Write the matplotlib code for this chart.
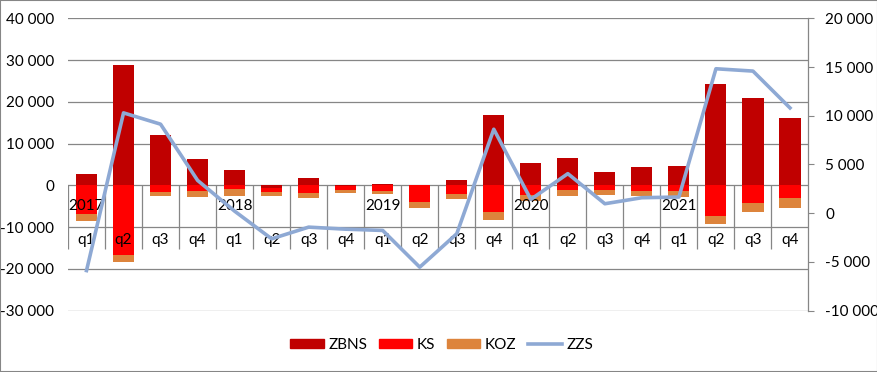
import numpy as np
import matplotlib.pyplot as plt
from matplotlib.ticker import FuncFormatter, MultipleLocator
from matplotlib.patches import Patch, Rectangle
from matplotlib.lines import Line2D

plt.rcParams['font.family'] = ['Lato', 'DejaVu Sans']

years = ["2017", "", "", "", "2018", "", "", "", "2019", "", "", "",
         "2020", "", "", "", "2021", "", "", ""]
quarters = ["q1", "q2", "q3", "q4"] * 5

zbns = [2800, 28850, 12100, 6400, 3750, -700, 1840, -150,
        400, 0, 1360, 16900, 5420, 6620, 3270, 4470,
        4710, 24300, 20960, 16180]
ks = [-7000, -16800, -1500, -1300, -800, -1000, -1750, -1000,
      -1400, -3900, -2000, -6450, -2230, -1030, -1030, -1270,
      -1270, -7480, -4140, -2940]
koz = [-1600, -1600, -1100, -1600, -1800, -950, -1350, -650,
       -800, -1650, -1180, -1750, -1430, -1430, -1200, -1360,
       -1600, -1840, -2150, -2390]
zzs = [-5900, 10290, 9130, 3360, 200, -2640, -1440, -1650,
       -1780, -5550, -2120, 8610, 1410, 4050, 960, 1580,
       1650, 14820, 14580, 10800]

colors = {"ZBNS": "#C00000", "KS": "#FF0000", "KOZ": "#DD843C"}
line_color = "#8EA9D4"
grid_color = "#868686"

fig = plt.figure(figsize=(8.78, 3.72), dpi=100)
ax = fig.add_axes([68 / 878, 1 - 310.5 / 372, 740.5 / 878, 292.2 / 372])

x = np.arange(len(quarters))
pos_base = np.zeros(len(x))
neg_base = np.zeros(len(x))
for name, vals in [("ZBNS", zbns), ("KS", ks), ("KOZ", koz)]:
    vals = np.array(vals, dtype=float)
    bottoms = np.where(vals >= 0, pos_base, neg_base)
    ax.bar(x, vals, bottom=bottoms, width=0.57, color=colors[name], zorder=3)
    pos_base += np.where(vals >= 0, vals, 0)
    neg_base += np.where(vals < 0, vals, 0)

ax.set_xlim(-0.5, len(x) - 0.5)
ax.set_ylim(-30000, 40000)
ax.yaxis.set_major_locator(MultipleLocator(10000))
fmt = FuncFormatter(lambda v, p: f"{int(v):,}".replace(",", " "))
ax.yaxis.set_major_formatter(fmt)
ax.grid(axis="y", color=grid_color, linewidth=0.9, zorder=0)
ax.set_xticks([])
for s in ["left", "top", "bottom", "right"]:
    ax.spines[s].set_visible(False)
ax.tick_params(axis="y", length=0, labelsize=11, pad=10)

# category axis with two levels of labels
ax.vlines(np.arange(-0.5, len(x)), -15200, 0, color=grid_color, linewidth=0.9, zorder=2)
for i in x:
    ax.text(i, -13000, quarters[i], ha="center", va="center", fontsize=11, zorder=6)
    if years[i]:
        ax.text(i, -5000, years[i], ha="center", va="center", fontsize=11, zorder=6)

ax2 = ax.twinx()
ax2.plot(x, zzs, color=line_color, linewidth=2.6, zorder=5)
ax2.set_ylim(-10000, 20000)
ax2.yaxis.set_major_locator(MultipleLocator(5000))
ax2.yaxis.set_major_formatter(fmt)
for s in ["left", "top", "bottom"]:
    ax2.spines[s].set_visible(False)
ax2.spines["right"].set_color(grid_color)
ax2.spines["right"].set_linewidth(0.9)
ax2.tick_params(axis="y", direction="out", length=4, color=grid_color, labelsize=11, pad=8)

handles = [Patch(color=colors["ZBNS"], label="ZBNS"),
           Patch(color=colors["KS"], label="KS"),
           Patch(color=colors["KOZ"], label="KOZ"),
           Line2D([], [], color=line_color, linewidth=2.6, label="ZZS")]
fig.legend(handles=handles, loc="center", bbox_to_anchor=(0.503, 0.073), ncol=4,
           frameon=False, fontsize=11, handlelength=2.2, handleheight=0.6,
           handletextpad=0.3, columnspacing=0.75)

fig.patches.append(Rectangle((0, 0), 1, 1, transform=fig.transFigure, fill=False,
                             edgecolor=grid_color, linewidth=1.5))

fig.savefig("out.png", dpi=100)
